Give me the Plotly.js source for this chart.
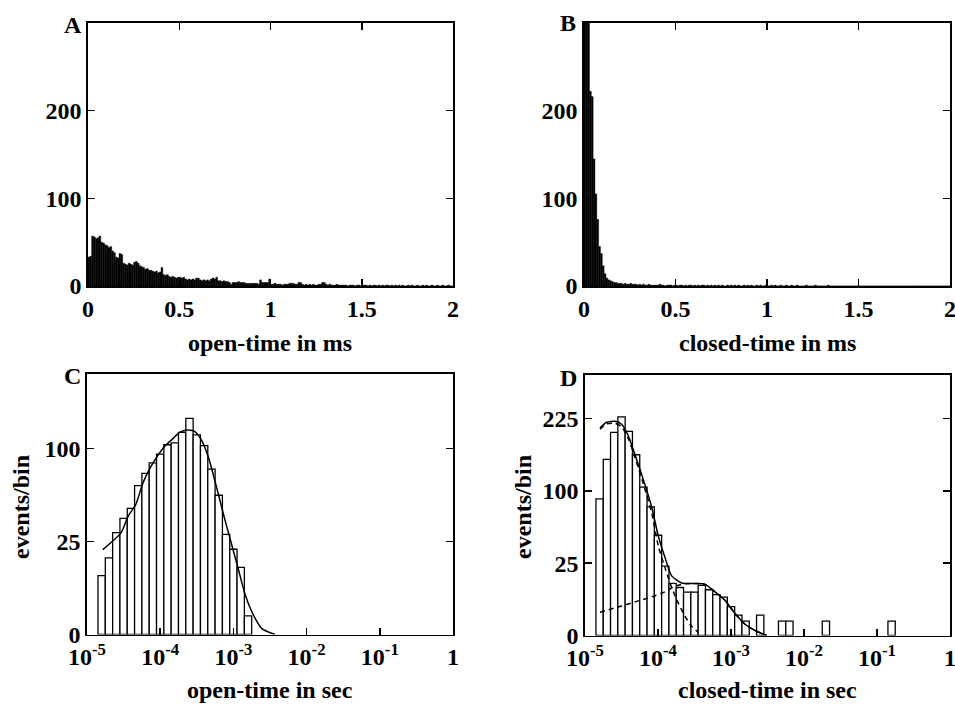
<!DOCTYPE html>
<html><head><meta charset="utf-8">
<script src="https://cdn.plot.ly/plotly-3.0.1.min.js"></script>
<style>html,body{margin:0;padding:0;background:#fff}#chart{width:955px;height:704px}</style>
</head><body><div id="chart"></div>
<script>
// ---------- data ----------
// Panels A and B: linear histograms, bins of 0.01 ms from 0 to 2 ms
const msBinWidth = 0.01;
const openCountsMs = [
 33,34,57,56,54,55,57,50,49,47,
 46,44,45,40,38,33,32,37,36,26,
 25,24,26,25,24,27,28,26,23,22,
 21,19,20,18,18,17,16,17,15,16,
 21,13,12,13,11,10,11,10,9,10,
 10,9,10,8,7,8,7,8,7,9,
 9,7,6,7,6,7,6,8,9,8,
 10,6,6,5,6,5,5,4,2,4,
 4,4,5,4,4,4,3,3,3,3,
 3,3,3,2,7,4,4,4,4,8,
 2,2,3,2,2,2,1,2,2,2,
 3,3,3,2,2,4,4,2,1,2,
 1,2,1,2,1,1,2,2,4,4,
 2,1,2,1,1,1,2,1,1,1,
 1,1,0,1,1,1,0,1,1,0,
 1,1,1,0,1,0,1,1,0,1,
 0,1,0,1,1,0,1,0,1,0,
 1,0,1,0,0,1,0,1,0,0,
 1,0,0,1,0,1,0,0,1,0,
 0,1,0,0,1,0,0,1,0,0];
const closedCountsMs = [
 310,330,320,222,216,145,105,76,45,37,
 23,14,9,7,6,5,4,4,3,3,
 3,2,3,2,2,3,2,2,2,1,
 2,1,2,1,1,2,1,1,1,1,
 1,2,1,1,0,1,1,1,0,1,
 1,0,1,1,0,1,0,1,1,0,
 1,0,1,0,1,1,0,1,0,1,
 0,1,0,1,0,1,0,0,1,0,
 1,0,1,0,1,0,0,1,0,1,
 0,1,0,0,1,0,1,0,0,1,
 0,0,1,0,1,0,0,1,0,0,
 1,0,0,1,0,0,1,0,0,0,
 0,1,0,0,0,0,1,0,0,0,
 0,0,0,1,0,0,0,0,0,0,
 0,0,0,0,0,0,0,0,0,0,
 0,0,0,0,0,0,0,0,0,0,
 0,0,0,0,0,0,0,0,0,0,
 0,0,0,0,0,0,0,0,0,0,
 0,0,0,0,0,0,0,0,0,0,
 0,0,0,0,0,0,0,0,0,0];

// Panels C and D: log-binned histograms, 10 bins per decade, first edge at 10^-4.85 s
const logBinFirstEdge = -4.85;
const logBinStep = 0.1;
const openCountsLog = [10,17,30,39,46,64,75,85,94,104,106,118,135,115,103,79,56,29,21,13,1];
const closedCountsLog = [89,148,197,228,199,156,105,79,48,23,
 13,11,9,9,12,10,8,7,4,2,
 1,0,2,0,0,1,1,0,0,0,
 0,1,0,0,0,0,0,0,0,0,1];

// fitted curves (time in s, events/bin)
const openFitT = [1.644e-5,2.911e-5,3.656e-5,4.645e-5,5.834e-5,7.328e-5,9.204e-5,1.169e-4,1.469e-4,1.845e-4,2.317e-4,2.944e-4,3.698e-4,4.645e-4,5.834e-4,7.328e-4,9.204e-4,1.159e-3,1.452e-3,1.824e-3,2.443e-3,3.715e-3];
const openFitY = [20.8,29.8,40.5,48.9,66.6,80.5,92.2,102.9,110.3,118,120.8,119.2,108.5,88.8,63.7,41.6,25.1,12.7,4.5,1.3,0.1,0];

const closedFitT = [1.603e-5,1.982e-5,2.576e-5,3.177e-5,3.926e-5,4.842e-5,6.295e-5,8.185e-5,1.012e-4,1.247e-4,1.538e-4,2.109e-4,3.214e-4,4.406e-4,6.039e-4,8.279e-4,1.135e-3,1.556e-3,2.133e-3,3.083e-3];
const closedFitY = [206,217,219,213,190,156,116,79,47,29,17,13.2,12.9,12.5,9.1,5.9,2.3,0.6,0.12,0];

const closedFastT = [1.603e-5,1.982e-5,2.576e-5,3.177e-5,3.926e-5,4.842e-5,6.295e-5,8.185e-5,1.012e-4,1.247e-4,1.538e-4,1.897e-4,2.344e-4,2.884e-4,3.548e-4];
const closedFastY = [203,214,215,208,185,151,110,72,38,22,11,5,1.8,0.4,0.05];

const closedSlowT = [1.603e-5,2.864e-5,4.842e-5,8.185e-5,1.247e-4,1.710e-4,2.344e-4,3.214e-4,4.406e-4,6.039e-4,8.279e-4,1.135e-3,1.556e-3,2.133e-3,3.083e-3];
const closedSlowY = [2.6,3.9,5.4,7.1,9.1,11.6,12.8,12.9,12.5,9.1,5.9,2.3,0.6,0.12,0];

// tick labels
const msTickVals = [0,0.5,1,1.5,2];
const msTickText = ['0','0.5','1','1.5','2'];
const linCountTicks = [0,100,200];
const logTickVals = [1e-5,1e-4,1e-3,1e-2,1e-1,1];
const logTickText = ['10<sup>-5</sup>','10<sup>-4</sup>','10<sup>-3</sup>','10<sup>-2</sup>','10<sup>-1</sup>','1'];
const sqrtTicksC = [0,25,100];
const sqrtTicksD = [0,25,100,225];

// ---------- traces ----------
const FONT = 'Liberation Serif, Times New Roman, serif';
function msBars(counts, xa, ya){
  return {type:'bar', x:counts.map((c,i)=>(i+0.5)*msBinWidth), y:counts, width:msBinWidth,
    marker:{color:'black', line:{color:'black', width:0.4}}, xaxis:xa, yaxis:ya, hoverinfo:'skip'};
}
function logBars(counts, xa, ya){
  const xs=[], ws=[], ys=[];
  counts.forEach((c,k)=>{
    if(c<=0) return;
    const L=Math.pow(10, logBinFirstEdge+k*logBinStep), R=Math.pow(10, logBinFirstEdge+(k+1)*logBinStep);
    xs.push((L+R)/2); ws.push(R-L); ys.push(Math.sqrt(c));
  });
  return {type:'bar', x:xs, y:ys, width:ws, marker:{color:'white', line:{color:'black', width:1.3}},
    xaxis:xa, yaxis:ya, hoverinfo:'skip'};
}
function curve(t, y, xa, ya, dash){
  return {type:'scatter', mode:'lines', x:t, y:y.map(Math.sqrt), xaxis:xa, yaxis:ya,
    line:{color:'black', width:1.5, dash:dash||'solid', shape:'spline', smoothing:0.6}, hoverinfo:'skip'};
}
const data = [
  msBars(openCountsMs,'x','y'),
  msBars(closedCountsMs,'x2','y2'),
  logBars(openCountsLog,'x3','y3'),
  curve(openFitT, openFitY,'x3','y3'),
  logBars(closedCountsLog,'x4','y4'),
  curve(closedFastT, closedFastY,'x4','y4','5px,4px'),
  curve(closedSlowT, closedSlowY,'x4','y4','5px,4px'),
  curve(closedFitT, closedFitY,'x4','y4')
];

// ---------- layout ----------
const W=955, H=704;
const px = v=>v/W, py = v=>1-v/H;
const tickfont = {family:FONT, size:24, color:'black', weight:'bold'};
function ax(extra){
  return Object.assign({showline:true, linecolor:'black', linewidth:1.8, mirror:'ticks',
    ticks:'inside', ticklen:7, tickwidth:1.5, tickcolor:'black', showgrid:false, zeroline:false,
    tickfont:tickfont, tickmode:'array', ticklabeloverflow:'allow', fixedrange:true}, extra);
}
const layout = {
  width:W, height:H, margin:{l:0,r:0,t:0,b:0}, paper_bgcolor:'white', plot_bgcolor:'white',
  showlegend:false, barmode:'overlay', font:{family:FONT, color:'black'},
  xaxis: ax({domain:[px(88),px(453)], range:[0,2], tickvals:msTickVals, ticktext:msTickText, anchor:'y'}),
  yaxis: ax({domain:[py(286),py(23)], range:[0,300], tickvals:linCountTicks, ticktext:linCountTicks.map(String), anchor:'x'}),
  xaxis2: ax({domain:[px(584),px(950)], range:[0,2], tickvals:msTickVals, ticktext:msTickText, anchor:'y2'}),
  yaxis2: ax({domain:[py(286),py(23)], range:[0,300], tickvals:linCountTicks, ticktext:linCountTicks.map(String), anchor:'x2'}),
  xaxis3: ax({type:'log', domain:[px(87),px(453)], range:[-5,0], tickvals:logTickVals, ticktext:logTickText, anchor:'y3', mirror:true}),
  yaxis3: ax({domain:[py(634.5),py(374)], range:[0,14], tickvals:sqrtTicksC.map(Math.sqrt), ticktext:sqrtTicksC.map(String), anchor:'x3'}),
  xaxis4: ax({type:'log', domain:[px(585),px(950)], range:[-5,0], tickvals:logTickVals, ticktext:logTickText, anchor:'y4', mirror:true}),
  yaxis4: ax({domain:[py(635.5),py(375)], range:[0,18], tickvals:sqrtTicksD.map(Math.sqrt), ticktext:sqrtTicksD.map(String), anchor:'x4'}),
  annotations: []
};
const letterFont = {family:FONT, size:24, color:'black', weight:'bold'};
const titleFont = {family:FONT, size:24, color:'black', weight:'bold'};
function ann(text, x, y, font, opts){
  return Object.assign({text:text, xref:'paper', yref:'paper', x:px(x), y:py(y), showarrow:false,
    font:font, xanchor:'center', yanchor:'middle'}, opts||{});
}
layout.annotations.push(
  ann('A', 84, 25, letterFont, {xanchor:'right'}),
  ann('B', 578, 23, letterFont, {xanchor:'right'}),
  ann('C', 83, 376, letterFont, {xanchor:'right'}),
  ann('D', 579, 378, letterFont, {xanchor:'right'}),
  ann('open-time in ms', 270, 343, titleFont),
  ann('closed-time in ms', 767, 343, titleFont),
  ann('open-time in sec', 270, 690, titleFont),
  ann('closed-time in sec', 767, 690, titleFont),
  ann('events/bin', 21, 507, titleFont, {textangle:-90}),
  ann('events/bin', 523, 507, titleFont, {textangle:-90})
);
Plotly.newPlot('chart', data, layout, {staticPlot:true, displayModeBar:false});
</script></body></html>
